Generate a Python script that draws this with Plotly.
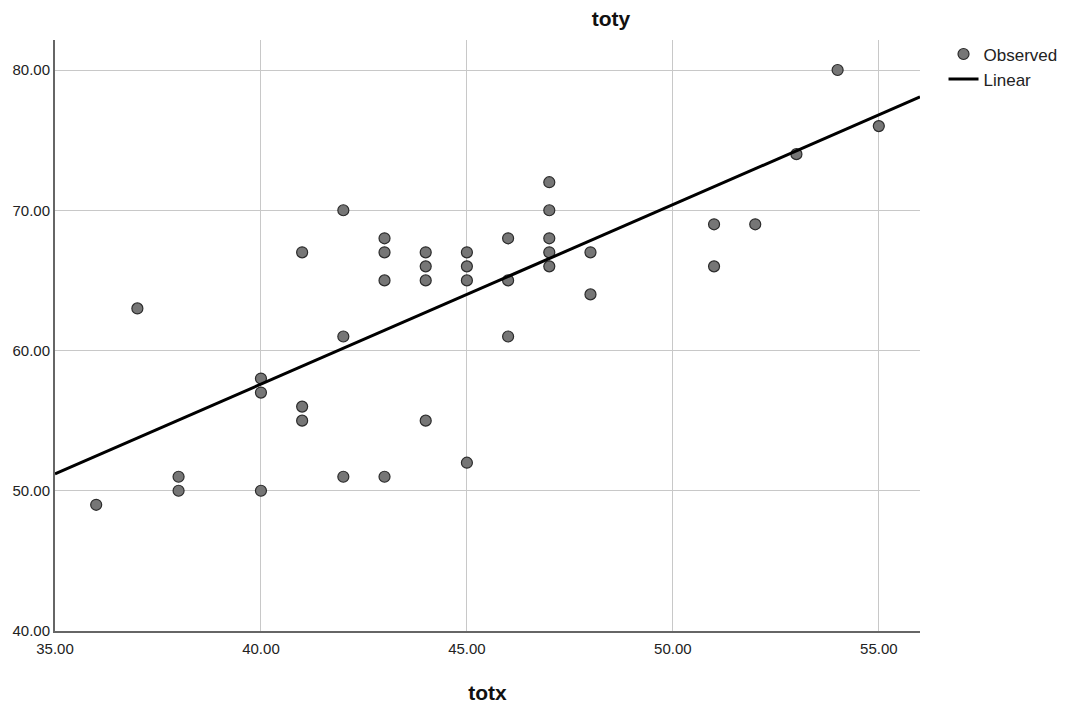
import plotly.graph_objects as go

totx = [36, 37, 38, 38, 40, 40, 40, 41, 41, 41, 42, 42, 42, 43, 43, 43, 43,
        44, 44, 44, 44, 45, 45, 45, 45, 46, 46, 46, 47, 47, 47, 47, 47,
        48, 48, 51, 51, 52, 53, 54, 55]
toty = [49, 63, 51, 50, 58, 57, 50, 67, 56, 55, 70, 61, 51, 68, 67, 65, 51,
        67, 66, 65, 55, 67, 66, 65, 52, 68, 65, 61, 72, 70, 68, 67, 66,
        67, 64, 69, 66, 69, 74, 80, 76]

x_tick_vals = [35, 40, 45, 50, 55]
y_tick_vals = [40, 50, 60, 70, 80]

# linear fit line
fit_intercept = 6.4
fit_slope = 1.28
line_x = [35, 56]
line_y = [fit_intercept + fit_slope * v for v in line_x]

fig = go.Figure()
fig.add_trace(go.Scatter(
    x=totx, y=toty, mode="markers", name="Observed",
    marker=dict(size=11, color="#767676", line=dict(color="#2b2b2b", width=1.2)),
))
fig.add_trace(go.Scatter(
    x=line_x, y=line_y, mode="lines", name="Linear",
    line=dict(color="black", width=3),
))

fig.update_layout(
    width=1066, height=703,
    paper_bgcolor="white", plot_bgcolor="white",
    margin=dict(l=47, r=153, t=32, b=80),
    font=dict(family="Arial, Liberation Sans, sans-serif", size=15, color="#222"),
    title=dict(text="<b>toty</b>", x=603 / 1066, xanchor="center", y=1 - 11 / 703, yanchor="middle",
               font=dict(size=21, color="#111")),
    legend=dict(x=1.026, y=1.006, xanchor="left", yanchor="top",
                font=dict(size=17, color="#222"), tracegroupgap=0,
                bgcolor="rgba(0,0,0,0)", itemwidth=30),
    showlegend=True,
)
fig.update_xaxes(
    range=[35, 56], tickvals=x_tick_vals,
    ticktext=[f"{v:.2f}" for v in x_tick_vals],
    showgrid=True, gridcolor="#c8c8c8", gridwidth=1,
    showline=True, linecolor="#666", linewidth=2,
    zeroline=False, ticks="", automargin=False, ticklabelstandoff=3,
    title=dict(text="<b>totx</b>", font=dict(size=21, color="#111"), standoff=29),
)
fig.update_yaxes(
    range=[40, 82.14], tickvals=y_tick_vals,
    ticktext=[f"{v:.2f}" for v in y_tick_vals],
    showgrid=True, gridcolor="#c8c8c8", gridwidth=1,
    showline=True, linecolor="#666", linewidth=2,
    zeroline=False, ticks="", automargin=False,
)

fig.write_html("out.html")
